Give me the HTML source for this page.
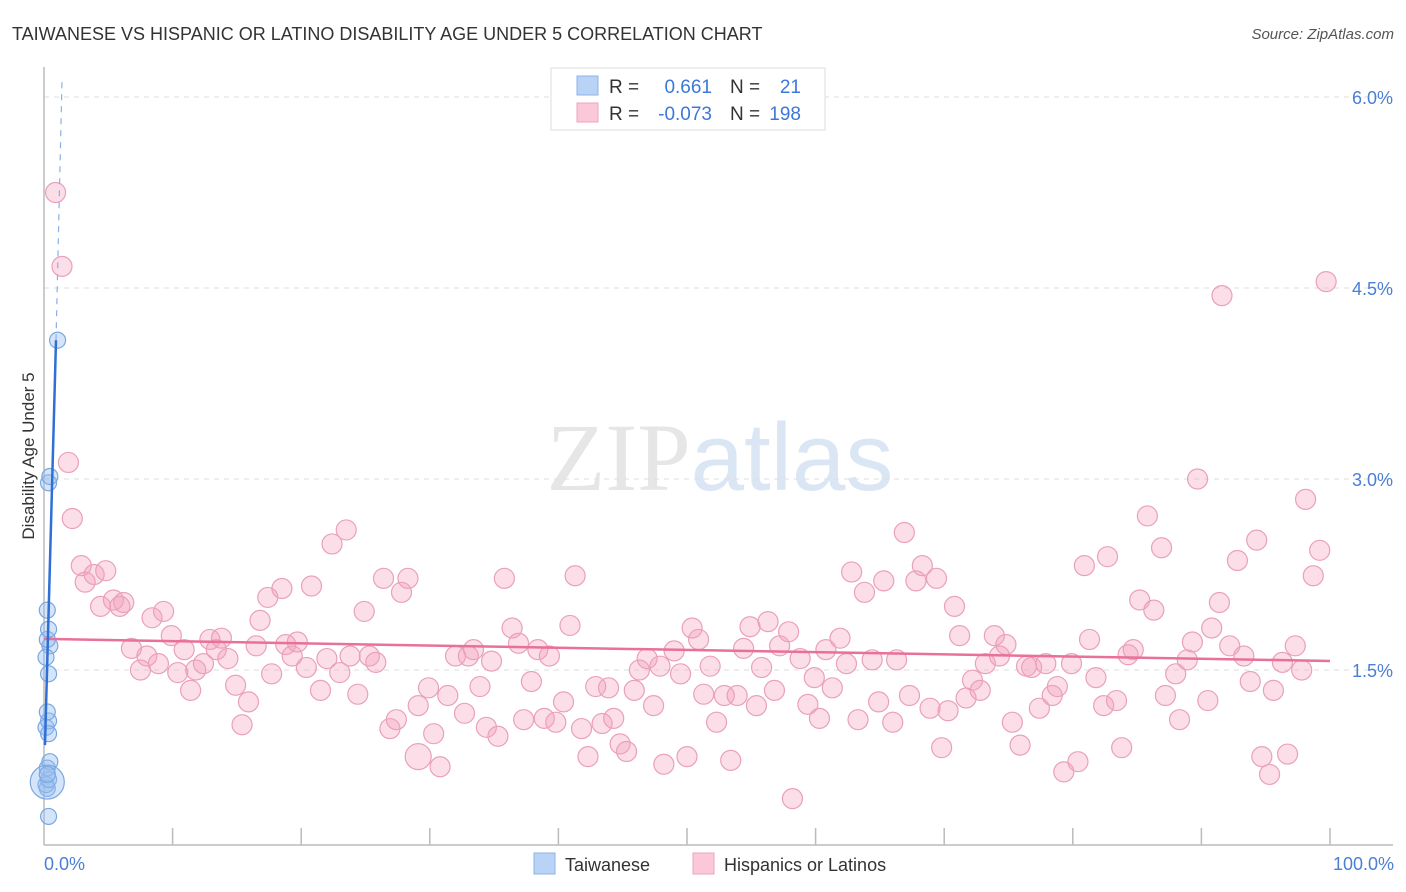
<!DOCTYPE html>
<html><head><meta charset="utf-8">
<style>
body{margin:0;background:#fff;font-family:"Liberation Sans",sans-serif}
</style></head>
<body>
<svg width="1406" height="892" xmlns="http://www.w3.org/2000/svg" style="display:block">
<text x="12" y="40" font-size="18" fill="#333">TAIWANESE VS HISPANIC OR LATINO DISABILITY AGE UNDER 5 CORRELATION CHART</text>
<text x="1394" y="39" font-size="15" fill="#555" font-style="italic" text-anchor="end">Source: ZipAtlas.com</text>
<text x="720" y="490" font-size="96" text-anchor="middle" fill="#e6e6e6" font-family="Liberation Serif,serif">ZIP<tspan fill="#dbe6f5" font-family="Liberation Sans,sans-serif">atlas</tspan></text>
<g id="grid"></g>
<g id="axes"></g>
<g id="pink"></g>
<g id="blue"></g>
<g id="lines"></g>
<text transform="translate(34,456) rotate(-90)" font-size="17" fill="#333" text-anchor="middle">Disability Age Under 5</text>
<text x="44" y="870" font-size="18" fill="#4a7fd4">0.0%</text>
<text x="1394" y="870" font-size="18" fill="#4a7fd4" text-anchor="end">100.0%</text>
<g>
<rect x="551" y="68" width="274" height="62" fill="#fff" stroke="#ddd"/>
<rect x="577" y="76" width="21" height="19" fill="#b8d3f5" stroke="#8cb3e6"/>
<rect x="577" y="103" width="21" height="19" fill="#fac8d8" stroke="#eda3bc"/>
<text x="609" y="93" font-size="19" fill="#333">R =</text>
<text x="712" y="93" font-size="19" fill="#3c78d8" text-anchor="end">0.661</text>
<text x="730" y="93" font-size="19" fill="#333">N =</text>
<text x="801" y="93" font-size="19" fill="#3c78d8" text-anchor="end">21</text>
<text x="609" y="120" font-size="19" fill="#333">R =</text>
<text x="712" y="120" font-size="19" fill="#3c78d8" text-anchor="end">-0.073</text>
<text x="730" y="120" font-size="19" fill="#333">N =</text>
<text x="801" y="120" font-size="19" fill="#3c78d8" text-anchor="end">198</text>
</g>
<g>
<rect x="534" y="853" width="21" height="21" fill="#b8d3f5" stroke="#8cb3e6"/>
<text x="565" y="871" font-size="18" fill="#333">Taiwanese</text>
<rect x="693" y="853" width="21" height="21" fill="#fac8d8" stroke="#eda3bc"/>
<text x="724" y="871" font-size="18" fill="#333">Hispanics or Latinos</text>
</g>
</svg>
<script>
const yTicks=[1.5,3.0,4.5,6.0];
const yTickLabels=["1.5%","3.0%","4.5%","6.0%"];
const xTicks=[10,20,30,40,50,60,70,80,90,100];
const blueX=[0.2,0.1,0.0,0.2,0.1,0.3,0.0,0.2,0.1,0.2,0.3,0.1,0.2,0.1,0.2,0.3,0.1,0.2,0.0,0.1,0.9];
const blueY=[0.35,0.57,0.60,0.64,0.73,0.78,1.05,1.10,1.17,1.47,1.69,1.74,1.82,1.97,2.97,3.02,0.62,1.00,1.60,0.68,4.09];
const pinkX=[0.9,1.4,1.9,2.2,2.9,3.2,3.9,4.8,4.4,5.4,6.2,5.9,8.4,9.3,6.8,7.5,8.0,8.9,9.9,10.4,10.9,11.4,11.8,12.4,12.9,13.4,13.8,14.3,14.9,15.4,15.9,16.8,16.5,17.4,18.5,17.7,18.8,19.3,19.7,20.4,20.8,21.5,22.0,22.4,23.5,23.0,23.8,24.4,24.9,25.3,25.8,26.4,26.9,27.4,27.8,28.3,29.1,29.1,29.9,30.3,30.8,31.4,32.0,32.7,33.0,33.4,33.9,34.8,34.4,35.3,35.8,36.4,36.9,37.3,37.9,38.4,38.9,39.3,39.8,40.4,40.9,41.3,41.8,42.3,42.9,43.4,43.9,44.3,44.8,45.3,45.9,46.3,46.9,47.4,47.9,48.2,49.0,49.5,50.0,50.4,50.9,51.3,51.8,52.3,52.9,53.4,53.9,54.4,54.9,55.4,55.8,56.3,56.8,57.2,57.9,58.2,58.8,59.4,59.9,60.3,60.8,61.3,61.9,62.4,62.8,63.3,63.8,64.4,64.9,65.3,66.0,66.3,66.9,67.3,67.8,68.3,68.9,69.4,69.8,70.3,70.8,71.2,71.7,72.2,72.8,73.2,73.9,74.3,74.8,75.3,75.9,76.4,76.8,77.4,77.9,78.4,78.8,79.3,79.9,80.4,80.9,81.3,81.8,82.4,82.7,83.4,83.8,84.3,84.7,85.2,85.8,86.3,86.9,87.2,88.0,88.3,88.9,89.3,89.7,90.5,90.8,91.4,91.6,92.2,92.8,93.3,93.8,94.3,94.7,95.3,95.6,96.3,96.7,97.3,97.8,98.1,98.7,99.2,99.7];
const pinkY=[5.25,4.67,3.13,2.69,2.32,2.19,2.25,2.28,2.0,2.05,2.03,2.0,1.91,1.96,1.67,1.5,1.61,1.55,1.77,1.48,1.66,1.34,1.5,1.55,1.74,1.66,1.75,1.59,1.38,1.07,1.25,1.89,1.69,2.07,2.14,1.47,1.70,1.61,1.72,1.52,2.16,1.34,1.59,2.49,2.60,1.48,1.61,1.31,1.96,1.61,1.56,2.22,1.04,1.11,2.11,2.22,1.22,0.82,1.36,1.00,0.74,1.30,1.61,1.16,1.61,1.66,1.37,1.57,1.05,0.98,2.22,1.83,1.71,1.11,1.41,1.66,1.12,1.61,1.09,1.25,1.85,2.24,1.04,0.82,1.37,1.08,1.36,1.12,0.92,0.86,1.34,1.50,1.59,1.22,1.53,0.76,1.65,1.47,0.82,1.83,1.74,1.31,1.53,1.09,1.30,0.79,1.30,1.67,1.84,1.22,1.52,1.88,1.34,1.69,1.80,0.49,1.59,1.23,1.44,1.12,1.66,1.36,1.75,1.55,2.27,1.11,2.11,1.58,1.25,2.20,1.09,1.58,2.58,1.30,2.20,2.32,1.20,2.22,0.89,1.18,2.0,1.77,1.28,1.42,1.34,1.55,1.77,1.61,1.70,1.09,0.91,1.53,1.52,1.20,1.55,1.30,1.37,0.70,1.55,0.78,2.32,1.74,1.44,1.22,2.39,1.26,0.89,1.62,1.66,2.05,2.71,1.97,2.46,1.30,1.47,1.11,1.58,1.72,3.0,1.26,1.83,2.03,4.44,1.69,2.36,1.61,1.41,2.52,0.82,0.68,1.34,1.56,0.84,1.69,1.50,2.84,2.24,2.44,4.55];
const bigPink=[0,0,0,0,0,0,0,0,0,0,0,0,0,0,0,0,0,0,0,0,0,0,0,0,0,0,0,0,0,0,0,0,0,0,0,0,0,0,0,0,0,0,0,0,0,0,0,0,0,0,0,0,0,0,0,0,0,1];
const pinkTrend=[1.744,1.571];
const blueTrend=[0.91,4.09];
const NS="http://www.w3.org/2000/svg";
const X=v=>44+v*12.86, Y=v=>861-v*127.33;
function mk(t,a,p){const e=document.createElementNS(NS,t);for(const k in a)e.setAttribute(k,a[k]);p.appendChild(e);return e;}
const g=document.getElementById('grid');
yTicks.forEach((t,i)=>{
 const l=mk('line',{x1:44,x2:1393,y1:Y(t),y2:Y(t),stroke:'#ddd','stroke-dasharray':'5,5'},g);
 
 
 const tx=mk('text',{x:1393,y:Y(t)+7,'font-size':18,fill:'#4a7fd4','text-anchor':'end'},g);
 tx.textContent=yTickLabels[i];
 
 
});
const ax=document.getElementById('axes');
mk('line',{x1:44,x2:44,y1:67,y2:845,stroke:'#bbb','stroke-width':1.5},ax);
mk('line',{x1:44,x2:1393,y1:845,y2:845,stroke:'#bbb','stroke-width':1.5},ax);
xTicks.forEach(t=>{
 const l=mk('line',{x1:X(t),x2:X(t),y1:828,y2:845,stroke:'#bbb','stroke-width':1.5},ax);
 
 
});
const pg=document.getElementById('pink');
pinkX.forEach((x,i)=>{
 const c=mk('circle',{cx:X(x),cy:Y(pinkY[i]),r:bigPink[i]?13:10,fill:'rgba(244,160,188,0.35)',stroke:'#eaa0ba','stroke-width':1.2},pg);
 
 
});
const bg=document.getElementById('blue');
blueX.forEach((x,i)=>{
 const c=mk('circle',{cx:X(x)+2,cy:Y(blueY[i]),r:i==16?17:8,fill:'rgba(150,190,240,0.4)',stroke:'#7aa7e0','stroke-width':1.2},bg);
 
 
});
const lg=document.getElementById('lines');
const pl=mk('line',{x1:X(0),y1:Y(pinkTrend[0]),x2:X(100),y2:Y(pinkTrend[1]),stroke:'#e8709a','stroke-width':2.5},lg);


const bl=mk('line',{x1:45,y1:Y(blueTrend[0]),x2:56,y2:Y(blueTrend[1]),stroke:'#2f6fd6','stroke-width':2.5},lg);


const bd=mk('line',{x1:56,y1:Y(blueTrend[1]),x2:62,y2:80,stroke:'#8ab0e6','stroke-width':1.2,'stroke-dasharray':'6,6'},lg);


</script>
</body></html>
